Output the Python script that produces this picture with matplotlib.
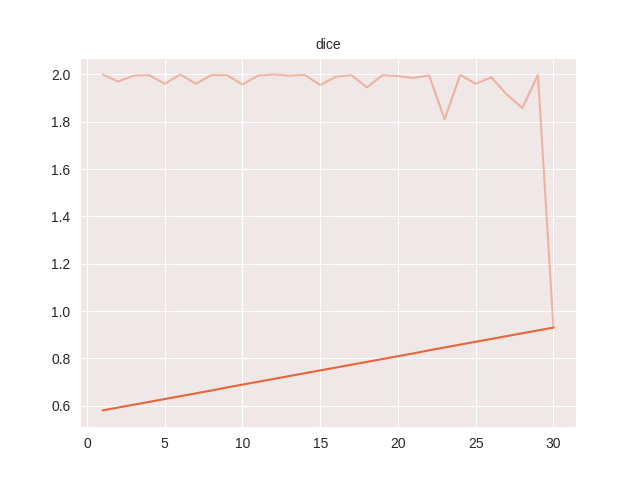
import matplotlib
matplotlib.use("Agg")
import matplotlib.pyplot as plt
import seaborn as sns

sns.set_style("darkgrid", {"axes.facecolor": "#f0e7e7"})
plt.rcParams["font.family"] = ["Liberation Sans", "DejaVu Sans"]

epochs = list(range(1, 31))
dice_raw = [2.0, 1.97, 1.995, 1.997, 1.96, 2.0, 1.96, 1.997, 1.997, 1.957,
            1.995, 2.0, 1.995, 1.998, 1.955, 1.99, 1.997, 1.945, 1.997, 1.993,
            1.985, 1.996, 1.81, 1.998, 1.96, 1.988, 1.915, 1.858, 1.998, 0.93]
dice_trend = [0.580, 0.592, 0.604, 0.616, 0.628, 0.640, 0.652, 0.664, 0.677, 0.689,
              0.701, 0.713, 0.725, 0.737, 0.749, 0.761, 0.773, 0.785, 0.797, 0.809,
              0.821, 0.834, 0.846, 0.858, 0.870, 0.882, 0.894, 0.906, 0.918, 0.930]

fig, ax = plt.subplots(figsize=(6.4, 4.8), dpi=100)
ax.plot(epochs, dice_raw, color="#e8643c", alpha=0.4)
ax.plot(epochs, dice_trend, color="#e8643c")
ax.set_title("dice", fontsize=10)
fig.savefig("out.png")
